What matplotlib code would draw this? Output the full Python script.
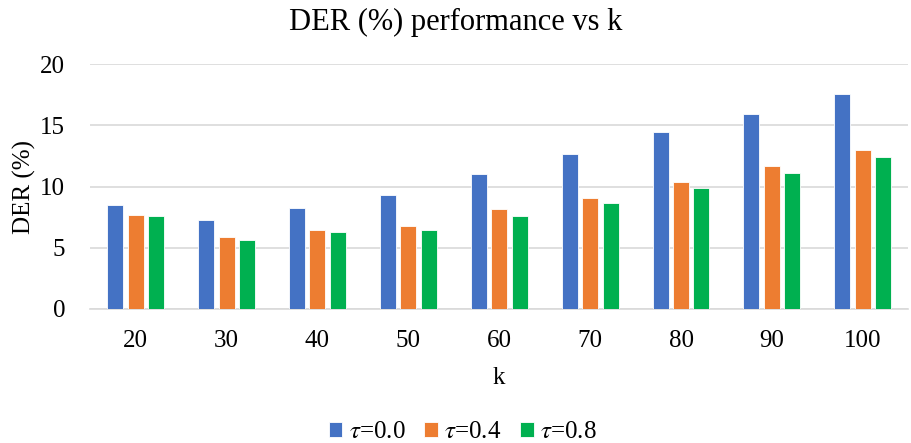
import numpy as np
import matplotlib
matplotlib.use("Agg")
import matplotlib.pyplot as plt

k_values = [20, 30, 40, 50, 60, 70, 80, 90, 100]
der_tau00 = [8.50, 7.30, 8.28, 9.32, 11.04, 12.64, 14.50, 15.91, 17.55]
der_tau04 = [7.66, 5.86, 6.46, 6.81, 8.15, 9.05, 10.38, 11.69, 12.97]
der_tau08 = [7.57, 5.67, 6.27, 6.46, 7.60, 8.64, 9.92, 11.09, 12.40]
series_labels = [r"$\tau$=0.0", r"$\tau$=0.4", r"$\tau$=0.8"]
colors = ["#4472C4", "#ED7D31", "#00B050"]

plt.rcParams['font.family'] = ['Liberation Serif', 'DejaVu Serif']
plt.rcParams['mathtext.fontset'] = 'stix'

fig = plt.figure(figsize=(9.11, 4.43), dpi=100)
ax = fig.add_axes([0.099, 0.3025, 0.898, 0.5525])

x = np.arange(len(k_values))
width = 0.176
offset = 0.225
for i, (vals, lab) in enumerate(zip([der_tau00, der_tau04, der_tau08], series_labels)):
    ax.bar(x + (i - 1) * offset, vals, width, color=colors[i], label=lab,
           edgecolor='white', linewidth=0.6, zorder=3)

ax.set_xlim(-0.5, len(k_values) - 0.5)
ax.set_ylim(0, 20)
ax.set_yticks([0, 5, 10, 15, 20])
ax.set_xticks(x)
ax.set_xticklabels([str(k) for k in k_values])
ax.grid(axis='y', color='#D9D9D9', linewidth=1.2, zorder=0)
for s in ['top', 'right', 'left']:
    ax.spines[s].set_visible(False)
ax.spines['bottom'].set_color('#D9D9D9')
ax.spines['bottom'].set_linewidth(1.2)
ax.tick_params(axis='both', length=0, labelsize=18, colors='black')
ax.tick_params(axis='x', pad=15)
ax.tick_params(axis='y', pad=18)

# title is centred on the whole figure
fig.text(0.5, 1 - 22 / 443, "DER (%) performance vs k", fontsize=22,
         ha='center', va='center', color='black')
ax.set_xlabel("k", fontsize=18, color='black', labelpad=11)
ax.set_ylabel("DER (%)", fontsize=18, color='black', labelpad=3)

leg = fig.legend(loc='center', bbox_to_anchor=(0.508, 1 - 432 / 443), ncol=3, frameon=False,
                 fontsize=18, handlelength=0.55, handleheight=0.55, handletextpad=0.25,
                 columnspacing=0.75, labelcolor='black')

fig.savefig("out.png", dpi=100)
